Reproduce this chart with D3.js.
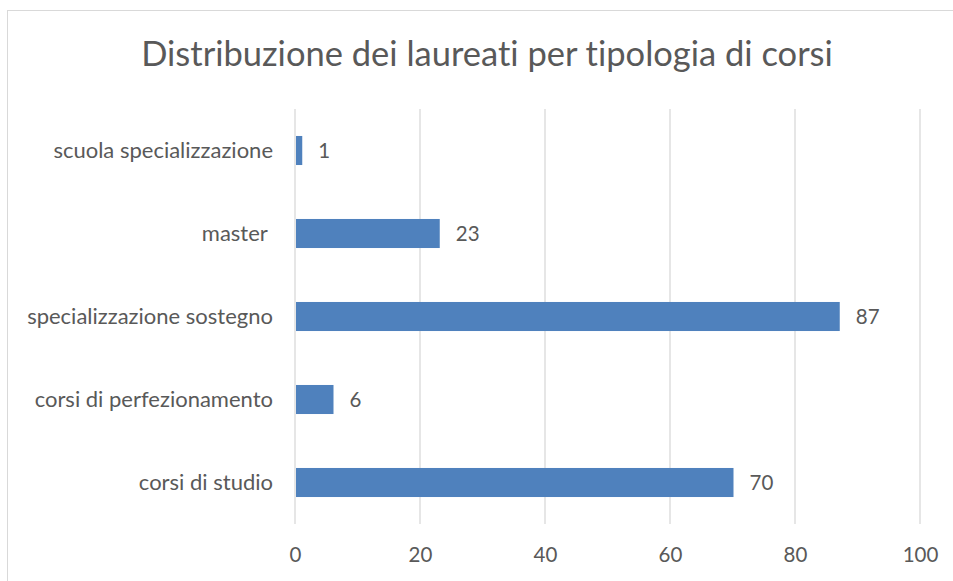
<!DOCTYPE html>
<html>
<head>
<meta charset="utf-8">
<script src="https://cdn.jsdelivr.net/npm/d3@7"></script>
<style>
  body { margin: 0; background: #fff; }
  text { font-family: Lato, "Open Sans", sans-serif; fill: #595959; font-variant-ligatures: none; }
</style>
</head>
<body>
<div id="chart"></div>
<script>
// data
var categories = ["scuola specializzazione", "master ", "specializzazione sostegno", "corsi di perfezionamento", "corsi di studio"];
var values = [1, 23, 87, 6, 70];
var xTicks = [0, 20, 40, 60, 80, 100];
var title = "Distribuzione dei laureati per tipologia di corsi";

var W = 953, H = 581;
var margin = { top: 109, right: 33, bottom: 57, left: 295 },
    width = W - margin.left - margin.right,
    height = H - margin.top - margin.bottom;

var svg = d3.select("#chart").append("svg")
    .attr("width", W)
    .attr("height", H);

// chart border
svg.append("rect")
    .attr("x", 7.5).attr("y", 10.5)
    .attr("width", W + 10).attr("height", H + 10)
    .attr("fill", "none")
    .attr("stroke", "#d9d9d9");

svg.append("text")
    .attr("x", 487).attr("y", 66)
    .attr("text-anchor", "middle")
    .style("font-size", "34.5px")
    .text(title);

var g = svg.append("g")
    .attr("transform", "translate(" + margin.left + "," + margin.top + ")");

var x = d3.scaleLinear().domain([0, 100]).range([0, width]);
var y = d3.scaleBand().domain(categories).range([0, height]).paddingInner(0.65).paddingOuter(0.325);

// gridlines
g.selectAll(".grid")
    .data(xTicks)
    .enter().append("line")
    .attr("x1", function (d) { return x(d); })
    .attr("x2", function (d) { return x(d); })
    .attr("y1", 0).attr("y2", height)
    .attr("stroke", "#d9d9d9")
    .attr("stroke-width", 1.3);

// x axis labels
var xAxis = g.append("g")
    .attr("transform", "translate(0," + height + ")")
    .call(d3.axisBottom(x).tickValues(xTicks).tickSize(0).tickPadding(23));
xAxis.select(".domain").remove();
xAxis.selectAll("text").style("font-size", "20.5px").style("font-family", null).attr("fill", null);

// y axis labels (keep the trailing space of "master ")
var yAxis = g.append("g")
    .call(d3.axisLeft(y).tickSize(0).tickPadding(22));
yAxis.select(".domain").remove();
yAxis.selectAll("text")
    .style("font-size", "22px")
    .style("white-space", "pre")
    .style("font-family", null)
    .attr("fill", null);

// bars
g.selectAll(".bar")
    .data(values)
    .enter().append("rect")
    .attr("x", x(0) + 1)
    .attr("y", function (d, i) { return y(categories[i]); })
    .attr("width", function (d) { return x(d) - x(0); })
    .attr("height", y.bandwidth())
    .attr("fill", "#4f81bd");

// value labels
g.selectAll(".lbl")
    .data(values)
    .enter().append("text")
    .attr("x", function (d) { return x(d) + 17; })
    .attr("y", function (d, i) { return y(categories[i]) + y.bandwidth() / 2; })
    .attr("dy", "0.35em")
    .style("font-size", "20.5px")
    .text(function (d) { return d; });
</script>
</body>
</html>
